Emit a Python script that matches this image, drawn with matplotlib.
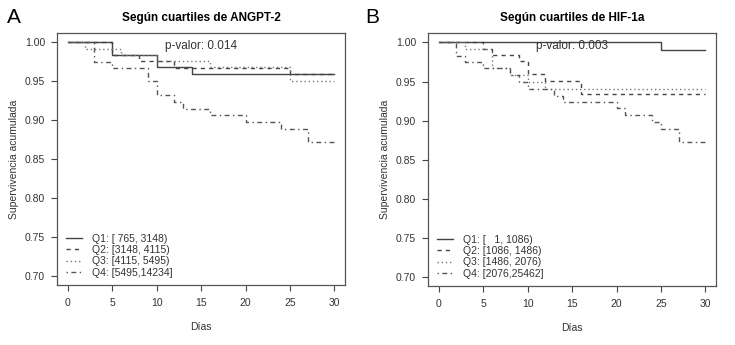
import matplotlib
matplotlib.use('Agg')
import matplotlib.pyplot as plt

plt.rcParams['font.family'] = ['Liberation Sans', 'DejaVu Sans']

# panel A: cuartiles de ANGPT-2
a_q1_t = [0, 5, 10, 14, 30]
a_q1_s = [1.0, 0.984, 0.968, 0.960, 0.960]
a_q2_t = [0, 5, 8, 12, 25, 30]
a_q2_s = [1.0, 0.984, 0.976, 0.967, 0.959, 0.959]
a_q3_t = [0, 2, 6, 10, 16, 25, 30]
a_q3_s = [1.0, 0.992, 0.984, 0.976, 0.968, 0.951, 0.951]
a_q4_t = [0, 3, 5, 9, 10, 12, 13, 16, 20, 24, 27, 30]
a_q4_s = [1.0, 0.975, 0.967, 0.950, 0.932, 0.924, 0.915, 0.907, 0.898, 0.889, 0.872, 0.872]
a_labels = ['Q1: [ 765, 3148)', 'Q2: [3148, 4115)', 'Q3: [4115, 5495)', 'Q4: [5495,14234]']

# panel B: cuartiles de HIF-1a
b_q1_t = [0, 25, 30]
b_q1_s = [1.0, 0.991, 0.991]
b_q2_t = [0, 5, 6, 9, 10, 12, 16, 30]
b_q2_s = [1.0, 0.992, 0.984, 0.976, 0.959, 0.951, 0.934, 0.934]
b_q3_t = [0, 3, 6, 8, 10, 12, 30]
b_q3_s = [1.0, 0.992, 0.967, 0.958, 0.950, 0.941, 0.941]
b_q4_t = [0, 2, 3, 5, 8, 9, 10, 13, 14, 20, 21, 24, 25, 27, 30]
b_q4_s = [1.0, 0.983, 0.975, 0.967, 0.958, 0.950, 0.941, 0.932, 0.924, 0.916, 0.907, 0.898, 0.889, 0.872, 0.872]
b_labels = ['Q1: [   1, 1086)', 'Q2: [1086, 1486)', 'Q3: [1486, 2076)', 'Q4: [2076,25462]']

x_ticks = [0, 5, 10, 15, 20, 25, 30]
y_ticks = [0.70, 0.75, 0.80, 0.85, 0.90, 0.95, 1.00]

styles = ['-', (0, (3, 3)), (0, (1, 2)), (0, (1, 2.5, 3.5, 2.5))]
colors = ['#444444', '#444444', '#777777', '#555555']

fig = plt.figure(figsize=(7.35, 3.45), dpi=100)
ax_a = fig.add_axes([0.0776, 0.174, 0.392, 0.730])
ax_b = fig.add_axes([0.5823, 0.171, 0.392, 0.733])

panels = [
    (ax_a, [(a_q1_t, a_q1_s), (a_q2_t, a_q2_s), (a_q3_t, a_q3_s), (a_q4_t, a_q4_s)],
     a_labels, 'Según cuartiles de ANGPT-2', 'p-valor: 0.014', 'A'),
    (ax_b, [(b_q1_t, b_q1_s), (b_q2_t, b_q2_s), (b_q3_t, b_q3_s), (b_q4_t, b_q4_s)],
     b_labels, 'Según cuartiles de HIF-1a', 'p-valor: 0.003', 'B'),
]

for ax, series, labels, title, pval, letter in panels:
    for (t, s), ls, c, lab in zip(series, styles, colors, labels):
        ax.step(t, s, where='post', linestyle=ls, color=c, lw=1.0, label=lab)
    ax.set_xlim(-1.2, 31.2)
    ax.set_ylim(0.688, 1.012)
    ax.set_xticks(x_ticks)
    ax.set_xticklabels([str(v) for v in x_ticks])
    ax.set_yticks(y_ticks)
    ax.set_yticklabels(['%.2f' % v for v in y_ticks])
    ax.tick_params(labelsize=7.5, length=4.5, width=0.8, colors='#444444',
                   labelcolor='#333333')
    ax.tick_params(axis='x', pad=5)
    ax.tick_params(axis='y', pad=4)
    for sp in ax.spines.values():
        sp.set_color('#555555')
        sp.set_linewidth(0.9)
    ax.set_xlabel('Días', fontsize=7.5, color='#333333', labelpad=10)
    ax.set_ylabel('Supervivencia acumulada', fontsize=7.5, color='#333333', labelpad=4)
    ax.set_title(title, fontsize=8.5, fontweight='bold', pad=9)
    ax.text(15, 0.9955, pval, ha='center', va='center', fontsize=8.5, color='#333333')
    ax.legend(loc='lower left', bbox_to_anchor=(0.032, 0.028), frameon=False,
              fontsize=7.5, handlelength=1.5, handletextpad=1.0,
              labelspacing=0.14, borderpad=0, borderaxespad=0,
              labelcolor='#333333')

fig.text(0.010, 0.95, 'A', fontsize=15, va='center', ha='left')
fig.text(0.497, 0.95, 'B', fontsize=15, va='center', ha='left')

fig.savefig('out.png', dpi=100, facecolor='white')
